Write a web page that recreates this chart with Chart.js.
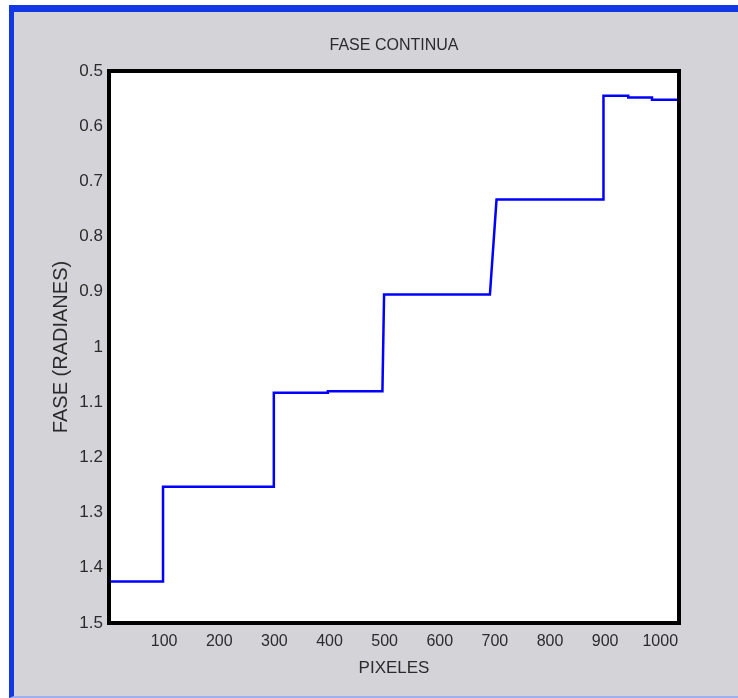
<!DOCTYPE html>
<html>

<head>
  <meta charset="utf-8">
  <meta name="viewport" content="width=device-width">
  <title>FASE CONTINUA</title>
  <style>
    body { margin: 0; background: #ffffff; }
    #marco {
      position: absolute; left: 9px; top: 5px; width: 740px; height: 684px;
      background: #d4d3d8;
      border-top: 7px solid #1238e6;
      border-left: 5px solid #1238e6;
      border-bottom: 2px solid #9fb0ee;
    }
    #contenedor { position: absolute; left: 0; top: 0; width: 738px; height: 698px; }
  </style>
</head>

<body>
  <div id="marco"></div>
  <div id="contenedor"><canvas id="graficoFase"></canvas></div>

  <script src="https://cdn.jsdelivr.net/npm/chart.js"></script>
  <script>
    // Datos: pixel (x) y fase en radianes (y)
    const pixeles = [0, 98, 98, 299, 299, 397, 397, 496, 499, 691, 703, 897, 897, 942, 942, 985, 985, 1034];
    const fase = [1.425, 1.425, 1.253, 1.253, 1.083, 1.083, 1.080, 1.080, 0.905, 0.905, 0.733, 0.733, 0.545, 0.545, 0.548, 0.548, 0.552, 0.552];

    // Marcas de los ejes
    const ticksX = [100, 200, 300, 400, 500, 600, 700, 800, 900, 1000];
    const ticksY = [0.5, 0.6, 0.7, 0.8, 0.9, 1, 1.1, 1.2, 1.3, 1.4, 1.5];

    const fuente = 'Liberation Sans, Arial, sans-serif';
    const colorTexto = '#2b2b2b';

    // Fondo blanco y marco negro del area de trazado
    const marcoPlugin = {
      id: 'marcoArea',
      beforeDatasetsDraw(chart) {
        const { ctx, chartArea: a } = chart;
        ctx.save();
        ctx.fillStyle = '#ffffff';
        ctx.fillRect(a.left, a.top, a.right - a.left, a.bottom - a.top);
        ctx.restore();
      },
      afterDraw(chart) {
        const { ctx, chartArea: a } = chart;
        ctx.save();
        ctx.strokeStyle = '#000000';
        ctx.lineWidth = 4;
        ctx.strokeRect(a.left, a.top, a.right - a.left, a.bottom - a.top);
        ctx.restore();
      }
    };

    const puntos = pixeles.map((x, i) => ({ x: x, y: fase[i] }));

    new Chart(document.getElementById('graficoFase'), {
      type: 'line',
      data: {
        datasets: [{
          data: puntos,
          xAxisID: 'x',
          yAxisID: 'y',
          borderColor: '#0000ff',
          borderWidth: 2.5,
          pointRadius: 0,
          tension: 0,
          fill: false
        }]
      },
      options: {
        responsive: true,
        maintainAspectRatio: false,
        animation: false,
        layout: { padding: { left: 0, right: 59, top: 0, bottom: 0 } },
        plugins: {
          legend: { display: false },
          tooltip: { enabled: false },
          title: { display: false }
        },
        scales: {
          x: {
            type: 'linear',
            min: 0,
            max: 1034,
            grid: { display: false, drawTicks: false },
            border: { display: false },
            afterBuildTicks: (scale) => { scale.ticks = ticksX.map(v => ({ value: v })); },
            afterFit: (scale) => { scale.height = 75; },
            ticks: {
              color: colorTexto,
              padding: 9,
              maxRotation: 0,
              font: { family: fuente, size: 16 },
              callback: (v) => String(v)
            },
            title: {
              display: true,
              text: 'PIXELES',
              color: colorTexto,
              font: { family: fuente, size: 17 },
              padding: { top: 0, bottom: 19 }
            }
          },
          y: {
            type: 'linear',
            reverse: true,
            min: 0.5,
            max: 1.5,
            grid: { display: false, drawTicks: false },
            border: { display: false },
            afterBuildTicks: (scale) => { scale.ticks = ticksY.map(v => ({ value: v })); },
            afterFit: (scale) => { scale.width = 109; },
            ticks: {
              color: colorTexto,
              padding: 6,
              font: { family: fuente, size: 17 },
              callback: (v) => String(Number(v.toFixed(1)))
            },
            title: {
              display: true,
              text: 'FASE (RADIANES)',
              color: colorTexto,
              font: { family: fuente, size: 20 },
              padding: { top: 49, bottom: 0 }
            }
          },
          // eje superior solo para centrar el titulo sobre el area de trazado
          titulo: {
            type: 'linear',
            axis: 'x',
            position: 'top',
            min: 0,
            max: 1,
            grid: { display: false, drawTicks: false },
            border: { display: false },
            ticks: { display: false },
            afterFit: (scale) => { scale.height = 71; },
            title: {
              display: true,
              text: 'FASE CONTINUA',
              color: colorTexto,
              font: { family: fuente, size: 16 },
              padding: { top: 36, bottom: 0 }
            }
          }
        }
      },
      plugins: [marcoPlugin]
    });
  </script>
</body>
</html>
